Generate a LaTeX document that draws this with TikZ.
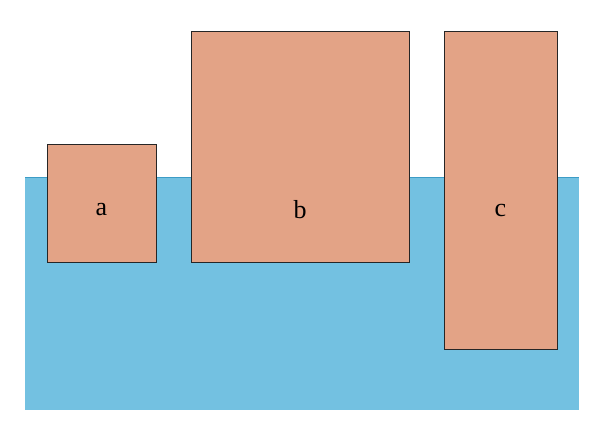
\documentclass[tikz,border=0pt]{standalone}
\usepackage{fontspec}
\setmainfont{Liberation Serif}
\definecolor{water}{HTML}{73C1E1}
\definecolor{waterline}{HTML}{3C9CC6}
\definecolor{block}{HTML}{E3A386}
\begin{document}
\begin{tikzpicture}[x=1pt,y=-1pt,
  blockbox/.style={draw=black!85,fill=block,line width=1pt},
  lbl/.style={font=\fontsize{26}{30}\selectfont}]
\useasboundingbox (0,0) rectangle (604,447);
\fill[water] (25,177) rectangle (579,410);
\draw[waterline,line width=1pt] (25,177) -- (579,177);
\draw[blockbox] (47,144) rectangle (156,262);
\draw[blockbox] (191,31) rectangle (409,262);
\draw[blockbox] (444,31) rectangle (557,349);
\node[lbl] (a) at (101.5,210) {a};
\node[lbl] (b) at (300,210) {b};
\node[lbl] (c) at (500.5,210) {c};
\end{tikzpicture}
\end{document}
